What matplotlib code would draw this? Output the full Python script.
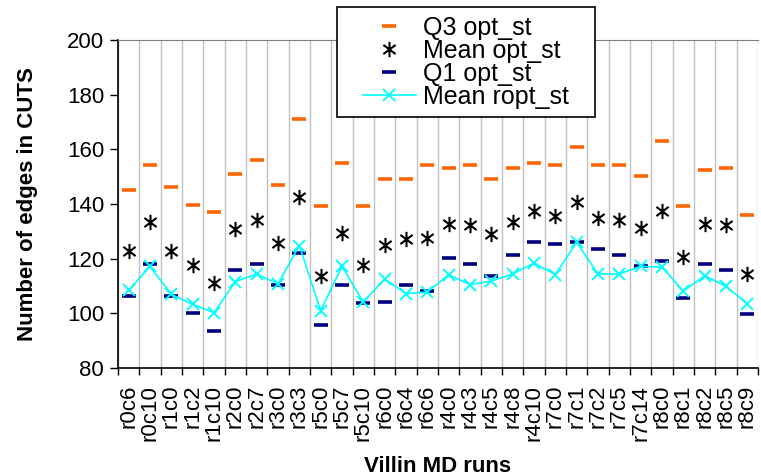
import numpy as np
import matplotlib
matplotlib.use('Agg')
import matplotlib.pyplot as plt
from matplotlib.path import Path
from matplotlib.patches import Rectangle

plt.rcParams['font.family'] = ['Liberation Sans', 'DejaVu Sans']

runs = ['r0c6', 'r0c10', 'r1c0', 'r1c2', 'r1c10', 'r2c0', 'r2c7', 'r3c0', 'r3c3',
        'r5c0', 'r5c7', 'r5c10', 'r6c0', 'r6c4', 'r6c6', 'r4c0', 'r4c3', 'r4c5',
        'r4c8', 'r4c10', 'r7c0', 'r7c1', 'r7c2', 'r7c5', 'r7c14', 'r8c0', 'r8c1',
        'r8c2', 'r8c5', 'r8c9']
q3_opt = [145.1, 154.3, 146.4, 139.8, 137.2, 151.0, 156.2, 147.0, 171.2, 139.1,
          155.0, 139.1, 149.1, 149.1, 154.3, 153.1, 154.3, 149.1, 153.1, 155.0,
          154.3, 161.0, 154.3, 154.3, 150.4, 162.9, 139.1, 152.3, 153.1, 135.8]
mean_opt = [122.9, 133.5, 122.9, 117.8, 111.2, 130.8, 134.1, 125.6, 142.6, 113.6,
            129.4, 117.8, 125.0, 127.2, 127.6, 132.7, 132.3, 129.0, 133.5, 137.5,
            135.5, 140.8, 134.8, 134.2, 131.4, 137.5, 120.5, 132.7, 132.3, 114.4]
q1_opt = [106.3, 118.1, 106.3, 100.2, 93.7, 116.0, 118.0, 110.2, 122.0, 95.6,
          110.2, 103.6, 104.1, 110.2, 108.1, 120.1, 118.1, 113.5, 121.4, 126.0,
          125.4, 126.0, 123.4, 121.4, 117.4, 119.3, 105.6, 118.1, 116.0, 99.9]
mean_ropt = [108.4, 117.2, 106.9, 103.3, 100.2, 111.6, 114.4, 110.8, 124.8, 101.0,
             117.2, 104.1, 112.6, 107.2, 107.8, 114.1, 110.5, 111.8, 114.4, 118.4,
             114.2, 126.0, 114.4, 114.4, 117.2, 116.9, 108.1, 113.8, 109.9, 103.5]

x = np.arange(len(runs))

# excel-style asterisk: x plus a vertical bar
star = Path([(0, -1), (0, 1), (-0.8, -0.6), (0.8, 0.6), (-0.8, 0.6), (0.8, -0.6)],
            [Path.MOVETO, Path.LINETO, Path.MOVETO, Path.LINETO, Path.MOVETO, Path.LINETO])

fig = plt.figure(figsize=(7.61, 4.76), dpi=100)
ax = fig.add_axes([118 / 761, 1 - 368 / 476, 640 / 761, 328 / 476])

ax.plot(x, q3_opt, linestyle='none', marker='_', markersize=10, markeredgewidth=2.6,
        color='#ff6600', label='Q3 opt_st', zorder=3)
ax.plot(x, mean_opt, linestyle='none', marker=star, markersize=11, markeredgewidth=1.5,
        color='black', label='Mean opt_st', zorder=3)
ax.plot(x, q1_opt, linestyle='none', marker='_', markersize=10, markeredgewidth=2.6,
        color='#000080', label='Q1 opt_st', zorder=3)
ax.plot(x, mean_ropt, color='#00ffff', linewidth=1.2, marker='x', markersize=9,
        markeredgewidth=1.4, label='Mean ropt_st', zorder=4)

ax.set_xlim(-0.5, len(runs) - 0.5)
ax.set_ylim(80, 200)
ax.set_yticks(np.arange(80, 201, 20))
ax.set_xticks(x)
ax.set_xticklabels(runs, rotation=90)
ax.set_xticks(np.arange(-0.5, len(runs), 1), minor=True)
ax.tick_params(axis='x', which='major', length=0, pad=12, labelsize=16)
ax.tick_params(axis='x', which='minor', length=5, width=1, color='black')
ax.tick_params(axis='y', labelsize=16, length=6, width=1, pad=4)
ax.grid(True, axis='x', which='minor', color='#c0c0c0', linewidth=1)

ax.spines['top'].set_color('#808080')
ax.spines['right'].set_visible(False)
ax.spines['left'].set_linewidth(1.2)
ax.spines['bottom'].set_linewidth(1.2)

ax.set_ylabel('Number of edges in CUTS', fontsize=16, fontweight='bold')
ax.yaxis.set_label_coords(-80 / 640, 0.5)
ax.set_xlabel('Villin MD runs', fontsize=16, fontweight='bold', va='center')
ax.xaxis.set_label_coords(0.5, -99 / 328)

# legend box drawn separately so its padding matches the original
box = Rectangle((337 / 761, 1 - 117 / 476), 258 / 761, 110 / 476, transform=fig.transFigure,
                facecolor='white', edgecolor='black', linewidth=1.2, zorder=9)
fig.patches.append(box)
leg = fig.legend(loc='upper left', bbox_to_anchor=(363 / 761, 1 - 16 / 476), fontsize=18,
                 frameon=False, borderpad=0, borderaxespad=0, labelspacing=-0.04,
                 handlelength=2.1, handletextpad=0.3)
leg.set_zorder(10)

fig.savefig('out.png', dpi=100)
